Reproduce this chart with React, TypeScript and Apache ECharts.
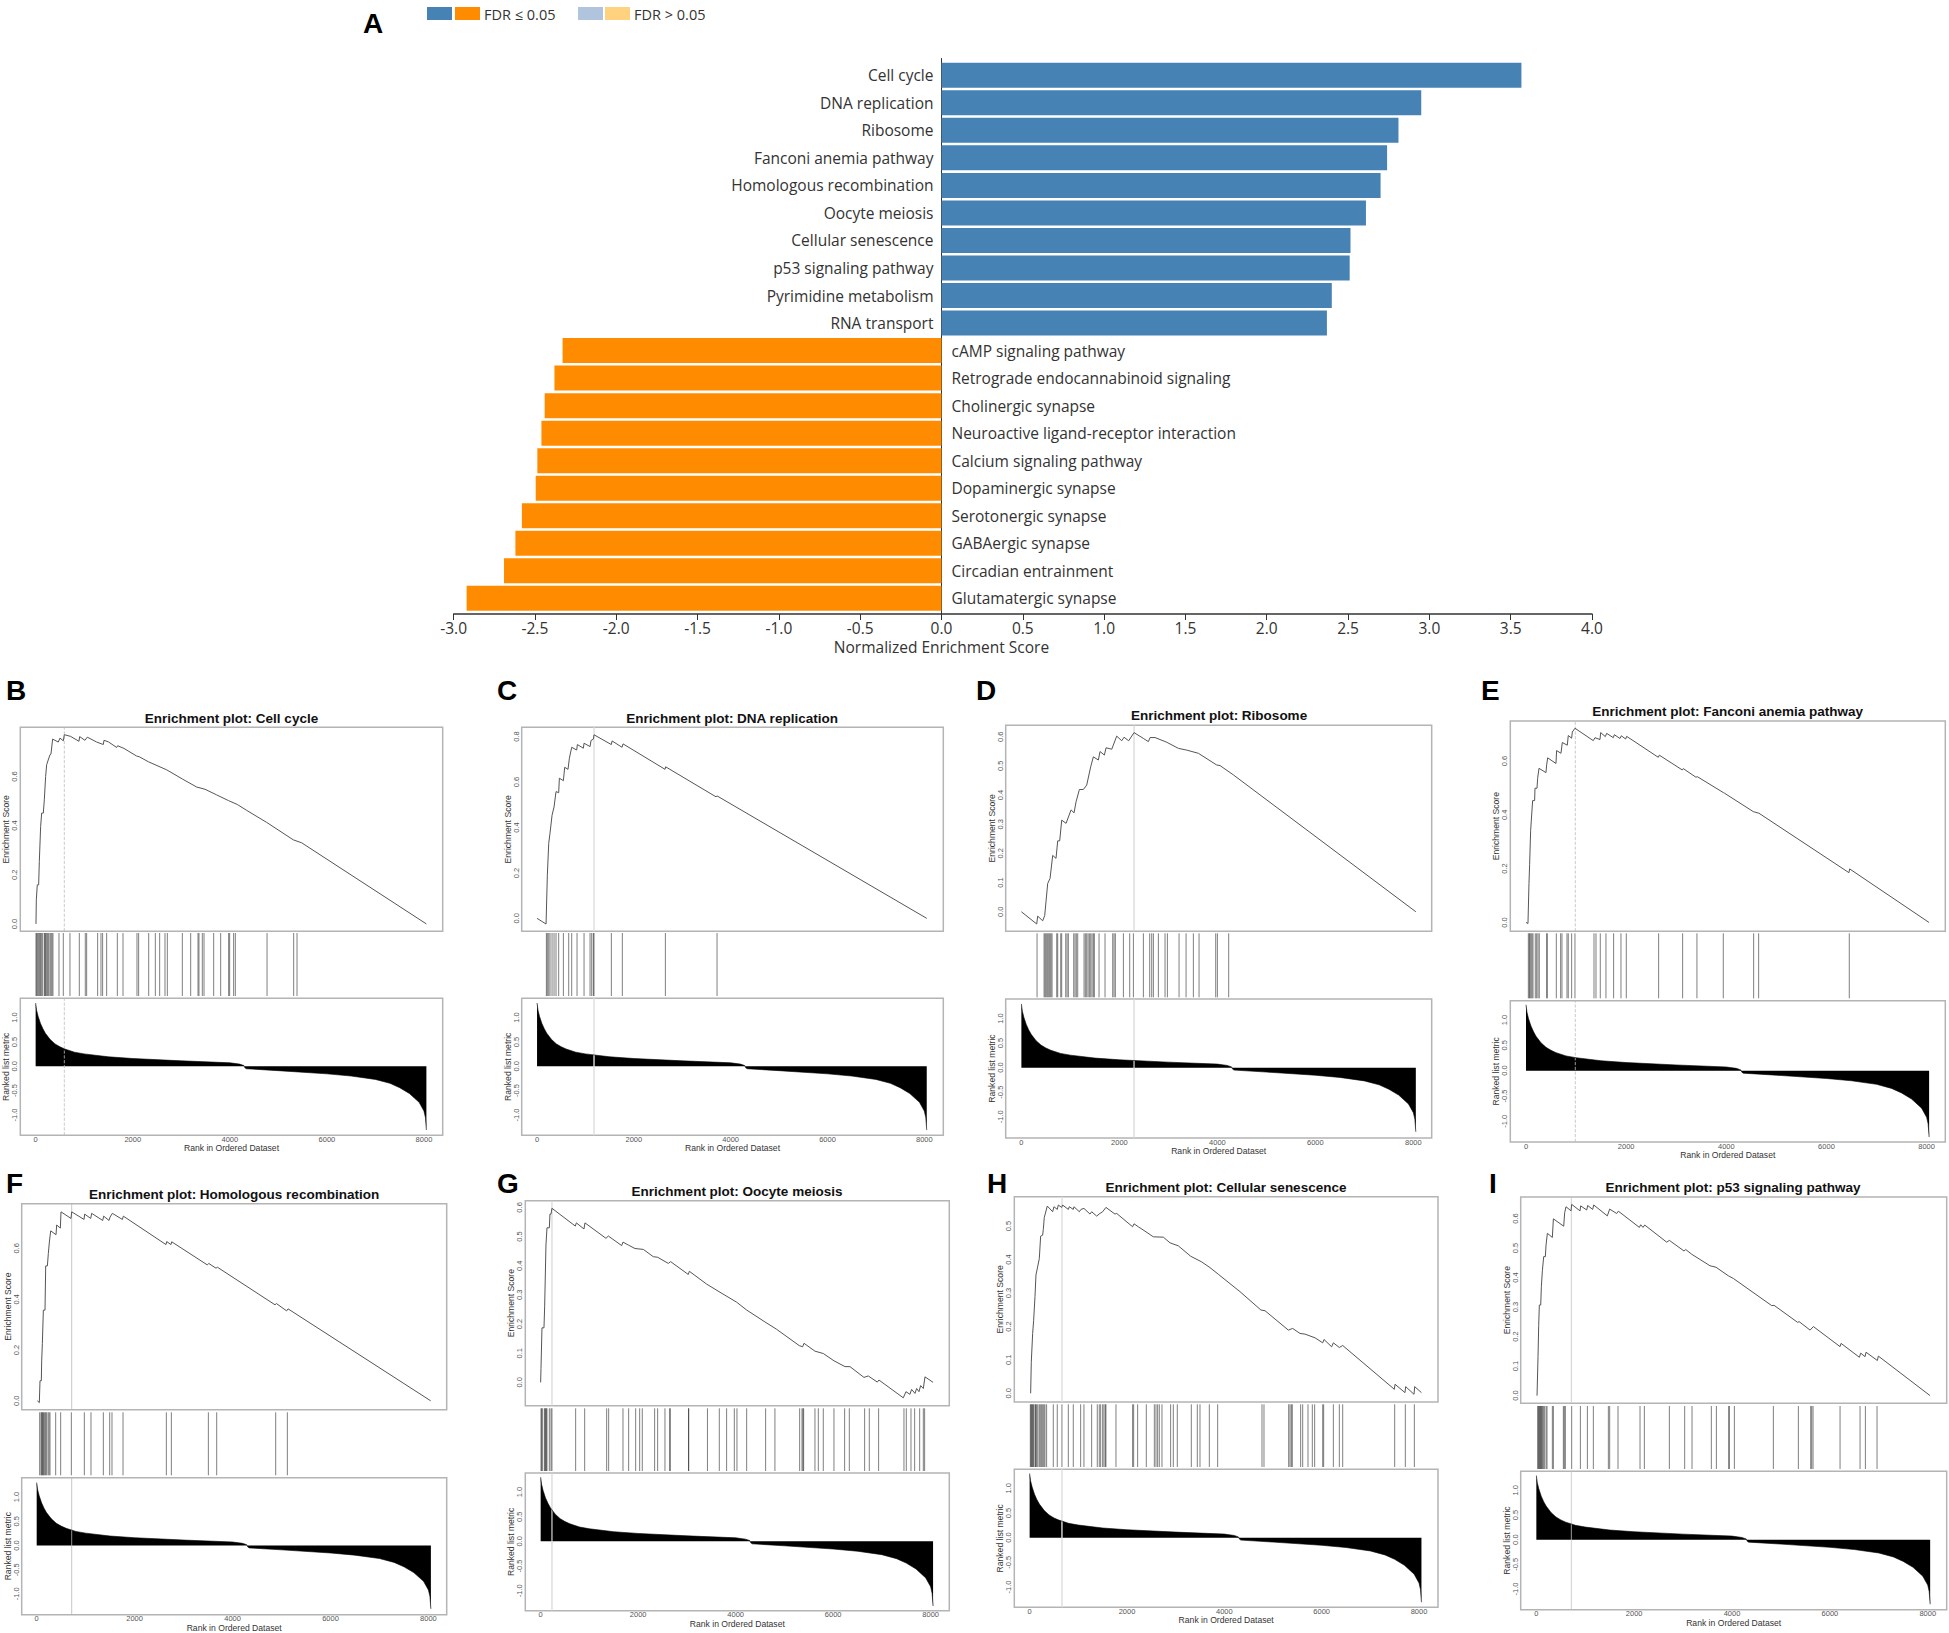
import { useEffect, useRef } from 'react';
import * as echarts from 'echarts';

// panel A
const pathways = [
  'Cell cycle', 'DNA replication', 'Ribosome', 'Fanconi anemia pathway', 'Homologous recombination',
  'Oocyte meiosis', 'Cellular senescence', 'p53 signaling pathway', 'Pyrimidine metabolism', 'RNA transport',
  'cAMP signaling pathway', 'Retrograde endocannabinoid signaling', 'Cholinergic synapse',
  'Neuroactive ligand-receptor interaction', 'Calcium signaling pathway', 'Dopaminergic synapse',
  'Serotonergic synapse', 'GABAergic synapse', 'Circadian entrainment', 'Glutamatergic synapse',
];
const upNes = [3.566, 2.95, 2.81, 2.74, 2.7, 2.61, 2.515, 2.51, 2.4, 2.37];
const downNes = [-2.33, -2.38, -2.44, -2.46, -2.485, -2.495, -2.58, -2.62, -2.69, -2.92];
const nesTicks = [-3, -2.5, -2, -1.5, -1, -0.5, 0, 0.5, 1, 1.5, 2, 2.5, 3, 3.5, 4];

// shared ranked list metric, [rank, value]
const rankedMetric = [
  [0, 1.3], [20, 1.15], [50, 1.03], [100, 0.88], [150, 0.77], [200, 0.68], [300, 0.55], [400, 0.46], [500, 0.4],
  [600, 0.355], [800, 0.29], [1000, 0.255], [1500, 0.195], [2000, 0.16], [3000, 0.112], [4000, 0.072], [4200, 0.045],
  [4290, 0.015], [4310, -0.03], [4340, -0.05], [5000, -0.09], [6000, -0.155], [6500, -0.2], [7000, -0.27],
  [7300, -0.35], [7500, -0.44], [7700, -0.56], [7900, -0.74], [8000, -0.92], [8030, -1.05], [8050, -1.31],
];
const rankTicks = [0, 2000, 4000, 6000, 8000];
const metricTicks = [-1, -0.5, 0, 0.5, 1];

const esCellCycle = [
  [7, 0], [14, 0.098], [34, 0.159], [62, 0.159], [76, 0.254], [103, 0.396], [124, 0.451], [158, 0.451], [179, 0.505],
  [206, 0.6], [227, 0.648], [295, 0.688], [316, 0.691], [350, 0.752], [467, 0.74], [501, 0.756], [570, 0.745],
  [591, 0.77], [721, 0.763], [893, 0.743], [907, 0.762], [1016, 0.747], [1064, 0.76], [1257, 0.74], [1394, 0.73],
  [1408, 0.747], [1497, 0.741], [1669, 0.718], [1690, 0.725], [1820, 0.714], [2081, 0.683], [2136, 0.68],
  [2321, 0.66], [2699, 0.627], [3029, 0.589], [3317, 0.557], [3489, 0.548], [3729, 0.525], [3970, 0.502],
  [4155, 0.486], [4348, 0.462], [4760, 0.413], [5309, 0.342], [5481, 0.33], [8050, 0],
];
const hitsCellCycle = [
  7, 21, 41, 62, 82, 103, 117, 144, 179, 192, 206, 227, 247, 268, 295, 316, 337, 357, 481, 570, 707, 900, 1023, 1051,
  1277, 1346, 1380, 1463, 1683, 1800, 2088, 2122, 2329, 2466, 2555, 2665, 2713, 3022, 3194, 3345, 3365, 3434, 3469,
  3668, 3812, 3976, 3997, 4079, 4114, 4767, 5316, 5385,
];

const esDnaReplication = [
  [0, 0], [186, -0.025], [213, 0.19], [241, 0.33], [268, 0.375], [310, 0.454], [351, 0.49], [392, 0.558], [447, 0.553],
  [461, 0.617], [544, 0.606], [571, 0.665], [640, 0.656], [668, 0.705], [716, 0.753], [819, 0.741], [833, 0.765],
  [957, 0.749], [971, 0.771], [1095, 0.756], [1115, 0.783], [1163, 0.789], [1177, 0.808], [1535, 0.765], [1549, 0.781],
  [1756, 0.753], [1776, 0.768], [2644, 0.656], [2657, 0.667], [3697, 0.535], [3718, 0.539], [8050, 0],
];
const hitsDnaReplication = [
  193, 213, 241, 268, 310, 351, 392, 447, 544, 654, 716, 826, 971, 1095, 1129, 1163, 1177, 1535, 1762, 2651, 3718,
];

const esRibosome = [
  [0, 0], [313, -0.042], [333, -0.015], [435, -0.031], [476, -0.013], [537, 0.097], [585, 0.114], [639, 0.193],
  [707, 0.183], [741, 0.243], [782, 0.243], [823, 0.314], [912, 0.303], [1014, 0.349], [1075, 0.339], [1116, 0.377],
  [1184, 0.419], [1265, 0.419], [1333, 0.434], [1415, 0.497], [1469, 0.531], [1571, 0.52], [1605, 0.549], [1694, 0.537],
  [1728, 0.562], [1844, 0.557], [1946, 0.602], [2048, 0.586], [2095, 0.598], [2190, 0.586], [2299, 0.614], [2490, 0.594],
  [2592, 0.583], [2626, 0.597], [2728, 0.597], [2966, 0.581], [3204, 0.56], [3374, 0.554], [3612, 0.543], [3986, 0.503],
  [4054, 0.501], [4327, 0.469], [8050, 0],
];
const hitsRibosome = [
  320, 463, 483, 503, 524, 544, 565, 585, 605, 626, 721, 741, 803, 823, 905, 932, 959, 1068, 1095, 1122, 1150, 1279,
  1306, 1333, 1361, 1388, 1415, 1442, 1469, 1490, 1585, 1707, 1864, 1891, 1918, 2082, 2211, 2286, 2490, 2619, 2660,
  2694, 2796, 2932, 2980, 3218, 3361, 3510, 3626, 3966, 4000, 4231,
];

const esFanconi = [
  [0, 0], [40, -0.004], [60, 0.145], [73, 0.216], [93, 0.341], [133, 0.453], [173, 0.453], [180, 0.499], [220, 0.499],
  [233, 0.536], [260, 0.573], [399, 0.557], [413, 0.586], [433, 0.612], [599, 0.591], [612, 0.639], [699, 0.629],
  [725, 0.669], [825, 0.659], [845, 0.695], [912, 0.685], [925, 0.708], [978, 0.722], [1344, 0.676], [1378, 0.687],
  [1478, 0.68], [1491, 0.706], [1584, 0.691], [1611, 0.703], [1744, 0.687], [1764, 0.698], [1877, 0.684], [1904, 0.694],
  [1990, 0.682], [2010, 0.692], [2642, 0.614], [2662, 0.622], [3121, 0.567], [3141, 0.572], [3394, 0.54], [3421, 0.542],
  [3940, 0.483], [3960, 0.481], [4539, 0.412], [4652, 0.406], [6449, 0.185], [6463, 0.199], [8047, 0],
];
const hitsFanconi = [
  47, 67, 80, 100, 120, 140, 186, 213, 240, 266, 413, 426, 606, 692, 719, 819, 845, 912, 978, 1358, 1398, 1484, 1597,
  1750, 1897, 2003, 2649, 3128, 3414, 3940, 4546, 4646, 6456,
];

const esHomologous = [
  [14, 0], [54, -0.007], [68, 0.079], [95, 0.079], [102, 0.157], [116, 0.226], [136, 0.357], [170, 0.357], [184, 0.531],
  [218, 0.531], [238, 0.58], [259, 0.625], [286, 0.669], [395, 0.654], [408, 0.692], [483, 0.68], [497, 0.744],
  [701, 0.718], [715, 0.744], [967, 0.714], [980, 0.735], [1103, 0.718], [1123, 0.738], [1348, 0.71], [1368, 0.727],
  [1477, 0.71], [1498, 0.723], [1545, 0.738], [1750, 0.714], [1770, 0.727], [2641, 0.615], [2655, 0.627], [2743, 0.615],
  [2757, 0.626], [3485, 0.535], [3513, 0.541], [3662, 0.522], [3690, 0.526], [4867, 0.378], [4895, 0.383], [5105, 0.354],
  [5133, 0.362], [8046, 0],
];
const hitsHomologous = [
  61, 88, 102, 116, 129, 143, 163, 184, 197, 231, 252, 272, 388, 490, 708, 973, 1109, 1361, 1491, 1538, 1763, 2648, 2750,
  3506, 3676, 4881, 5119,
];

const esOocyte = [
  [0, 0], [7, 0.048], [27, 0.187], [68, 0.187], [82, 0.259], [109, 0.471], [130, 0.53], [178, 0.53], [191, 0.577],
  [212, 0.577], [232, 0.597], [711, 0.536], [732, 0.547], [889, 0.526], [909, 0.547], [1340, 0.494], [1388, 0.502],
  [1662, 0.469], [1689, 0.481], [1798, 0.471], [1935, 0.459], [2106, 0.456], [2311, 0.431], [2400, 0.429], [2619, 0.408],
  [2667, 0.414], [3029, 0.37], [3050, 0.381], [3405, 0.337], [3679, 0.309], [4021, 0.275], [4226, 0.248], [4622, 0.205],
  [4841, 0.182], [5306, 0.126], [5374, 0.122], [5402, 0.134], [5627, 0.107], [5798, 0.099], [6017, 0.074], [6243, 0.054],
  [6345, 0.054], [6632, 0.017], [6721, 0.022], [6906, 0.001], [6940, 0.008], [7439, -0.053], [7494, -0.032], [7576, -0.041],
  [7610, -0.024], [7679, -0.038], [7713, -0.021], [7761, -0.032], [7795, -0.011], [7850, -0.021], [7884, 0.019], [8050, 0],
];
const hitsOocyte = [
  7, 21, 34, 75, 89, 103, 116, 130, 178, 212, 232, 718, 903, 1354, 1395, 1689, 1805, 1949, 2031, 2085, 2338, 2400, 2550,
  2646, 2660, 3036, 3036, 3422, 3665, 3815, 3973, 4027, 4226, 4615, 4806, 5313, 5361, 5381, 5395, 5627, 5696, 5798, 6017,
  6236, 6332, 6646, 6742, 6933, 7453, 7501, 7597, 7672, 7775, 7850, 7877,
];

const esSenescence = [
  [21, 0], [34, 0.093], [62, 0.179], [82, 0.217], [110, 0.289], [130, 0.354], [164, 0.378], [199, 0.403], [226, 0.47],
  [267, 0.473], [281, 0.49], [301, 0.526], [363, 0.56], [473, 0.543], [500, 0.558], [568, 0.55], [589, 0.563], [658, 0.556],
  [678, 0.563], [795, 0.55], [815, 0.558], [897, 0.55], [911, 0.558], [1021, 0.543], [1055, 0.55], [1116, 0.553],
  [1240, 0.536], [1274, 0.543], [1377, 0.53], [1445, 0.538], [1500, 0.543], [1568, 0.556], [1753, 0.536], [1788, 0.538],
  [2116, 0.498], [2144, 0.507], [2233, 0.498], [2370, 0.485], [2541, 0.468], [2747, 0.467], [2884, 0.45], [3055, 0.441],
  [3308, 0.41], [3534, 0.393], [3705, 0.376], [3877, 0.356], [4322, 0.304], [4753, 0.249], [4836, 0.247], [5315, 0.189],
  [5404, 0.194], [5555, 0.179], [5658, 0.177], [5863, 0.166], [6021, 0.151], [6048, 0.161], [6205, 0.139], [6240, 0.151],
  [6363, 0.137], [6432, 0.143], [7493, 0.012], [7507, 0.027], [7712, 0.002], [7726, 0.02], [7897, -0.003], [7911, 0.02],
  [8050, 0.002],
];
const hitsSenescence = [
  14, 27, 41, 55, 68, 82, 110, 123, 137, 158, 192, 212, 233, 253, 274, 295, 315, 349, 486, 568, 664, 795, 897, 1048, 1116,
  1274, 1390, 1431, 1459, 1500, 1527, 1555, 1568, 1774, 2116, 2137, 2219, 2397, 2562, 2596, 2630, 2664, 2719, 2897, 2952,
  3034, 3322, 3445, 3500, 3692, 3863, 4774, 4815, 5322, 5349, 5377, 5397, 5568, 5610, 5719, 5808, 5856, 6021, 6041, 6240,
  6363, 6432, 7500, 7719, 7904,
];

const esP53 = [
  [14, 0], [34, 0.132], [48, 0.238], [61, 0.307], [89, 0.307], [102, 0.369], [123, 0.423], [150, 0.471], [184, 0.471],
  [198, 0.51], [225, 0.55], [327, 0.536], [348, 0.599], [559, 0.574], [579, 0.62], [606, 0.64], [709, 0.626], [722, 0.648],
  [893, 0.626], [906, 0.643], [1029, 0.629], [1049, 0.644], [1152, 0.631], [1172, 0.646], [1451, 0.609], [1499, 0.632],
  [1642, 0.617], [1676, 0.625], [2106, 0.57], [2133, 0.579], [2180, 0.57], [2215, 0.578], [2664, 0.52], [2719, 0.526],
  [3019, 0.49], [3053, 0.495], [3176, 0.479], [3550, 0.44], [3673, 0.435], [3925, 0.406], [4027, 0.397], [4811, 0.305],
  [4859, 0.306], [5342, 0.248], [5370, 0.251], [5595, 0.222], [5663, 0.234], [6208, 0.166], [6228, 0.177], [6603, 0.13],
  [6630, 0.144], [6719, 0.132], [6739, 0.147], [6971, 0.119], [6991, 0.134], [8048, 0],
];
const hitsP53 = [
  27, 41, 55, 68, 82, 95, 109, 123, 143, 164, 198, 218, 327, 348, 552, 572, 593, 722, 900, 1043, 1165, 1472, 1499, 1669,
  2119, 2208, 2719, 3032, 3182, 3577, 3680, 3932, 3945, 4048, 4845, 5356, 5608, 5629, 5656, 6208, 6617, 6726, 6964,
];

const panels = [
  { letter: 'B', name: 'Cell cycle', letterX: 6, letterY: 680, titleX: 231.5, titleY: 718, left: 20.3, right: 442.7, top: 727.3, esBottom: 931.3, hitTop: 933, hitBottom: 996, metricTop: 998.3, bottom: 1135.3, rankRange: [-316, 8386], esRange: [-0.03, 0.8], metricRange: [-1.418, 1.397], esTicks: [0, 0.2, 0.4, 0.6], peak: 591, peakStyle: { color: '#bdbdbd', width: 0.8, type: 'dashed' }, es: esCellCycle, hits: hitsCellCycle },
  { letter: 'C', name: 'DNA replication', letterX: 497, letterY: 680, titleX: 732, titleY: 718, left: 521.7, right: 943.3, top: 727.3, esBottom: 931.3, hitTop: 933, hitBottom: 996, metricTop: 998.3, bottom: 1135.3, rankRange: [-317, 8392], esRange: [-0.057, 0.841], metricRange: [-1.418, 1.397], esTicks: [0, 0.2, 0.4, 0.6, 0.8], peak: 1177, peakStyle: { color: '#dedede', width: 1.4 }, es: esDnaReplication, hits: hitsDnaReplication },
  { letter: 'D', name: 'Ribosome', letterX: 976, letterY: 680, titleX: 1219, titleY: 715, left: 1005.7, right: 1431.7, top: 725.3, esBottom: 931.3, hitTop: 933.3, hitBottom: 997.3, metricTop: 999, bottom: 1138, rankRange: [-320, 8374], esRange: [-0.067, 0.639], metricRange: [-1.435, 1.4], esTicks: [0, 0.1, 0.2, 0.3, 0.4, 0.5, 0.6], peak: 2299, peakStyle: { color: '#d6d6d6', width: 1.2 }, es: esRibosome, hits: hitsRibosome },
  { letter: 'E', name: 'Fanconi anemia pathway', letterX: 1481, letterY: 680, titleX: 1727.7, titleY: 711, left: 1510.3, right: 1945.3, top: 721, esBottom: 931.3, hitTop: 933.3, hitBottom: 998.3, metricTop: 1000.7, bottom: 1142, rankRange: [-313, 8373], esRange: [-0.033, 0.749], metricRange: [-1.408, 1.38], esTicks: [0, 0.2, 0.4, 0.6], peak: 985, peakStyle: { color: '#bdbdbd', width: 0.8, type: 'dashed' }, es: esFanconi, hits: hitsFanconi },
  { letter: 'F', name: 'Homologous recombination', letterX: 6, letterY: 1173, titleX: 234, titleY: 1194, left: 21.7, right: 446.7, top: 1203.7, esBottom: 1409.7, hitTop: 1412.3, hitBottom: 1475.3, metricTop: 1477.7, bottom: 1616.3, rankRange: [-306, 8373], esRange: [-0.035, 0.776], metricRange: [-1.43, 1.4], esTicks: [0, 0.2, 0.4, 0.6], peak: 715, peakStyle: { color: '#b8b8b8', width: 0.8 }, es: esHomologous, hits: hitsHomologous },
  { letter: 'G', name: 'Oocyte meiosis', letterX: 497, letterY: 1173, titleX: 737, titleY: 1191, left: 525.3, right: 949.3, top: 1200.7, esBottom: 1405.7, hitTop: 1408.3, hitBottom: 1471, metricTop: 1473, bottom: 1610.7, rankRange: [-315, 8383], esRange: [-0.08, 0.623], metricRange: [-1.405, 1.385], esTicks: [0, 0.1, 0.2, 0.3, 0.4, 0.5, 0.6], peak: 232, peakStyle: { color: '#d6d6d6', width: 1.2 }, es: esOocyte, hits: hitsOocyte },
  { letter: 'H', name: 'Cellular senescence', letterX: 987, letterY: 1173, titleX: 1226, titleY: 1187, left: 1014.3, right: 1438, top: 1196.7, esBottom: 1402, hitTop: 1404.3, hitBottom: 1467, metricTop: 1469.3, bottom: 1607.3, rankRange: [-315, 8390], esRange: [-0.026, 0.588], metricRange: [-1.412, 1.385], esTicks: [0, 0.1, 0.2, 0.3, 0.4, 0.5], peak: 664, peakStyle: { color: '#dedede', width: 1.4 }, es: esSenescence, hits: hitsSenescence },
  { letter: 'I', name: 'p53 signaling pathway', letterX: 1489, letterY: 1173, titleX: 1733, titleY: 1187, left: 1520.7, right: 1946.7, top: 1197, esBottom: 1403.3, hitTop: 1406, hitBottom: 1469, metricTop: 1471.3, bottom: 1609.7, rankRange: [-320, 8388], esRange: [-0.026, 0.673], metricRange: [-1.419, 1.385], esTicks: [0, 0.1, 0.2, 0.3, 0.4, 0.5, 0.6], peak: 715, peakStyle: { color: '#c4c4c4', width: 0.8 }, es: esP53, hits: hitsP53 },
];

const WIDTH = 1949;
const HEIGHT = 1633;
const SANS = '"Liberation Sans", Arial, sans-serif';
const UI_FONT = '"Open Sans", sans-serif';
const BOX = '#b4b4b4';
const FAINT = '#555';

const hitRenderer = (_params: any, api: any) => {
  const rank = api.value(0);
  const from = api.coord([rank, 0]);
  const to = api.coord([rank, 1]);
  return {
    type: 'line',
    shape: { x1: from[0], y1: from[1], x2: to[0], y2: to[1] },
    style: { stroke: '#000', opacity: 0.5, lineWidth: 1 },
  };
};

function buildOption() {
  const grid: any[] = [
    { left: 453.6, right: WIDTH - 1592, top: 61.5, height: 550.6 },
    { left: 453.6, right: WIDTH - 1592, top: 58.5, height: 555.5 },
  ];
  const xAxis: any[] = [
    { gridIndex: 0, type: 'value', min: -3, max: 4, show: false },
    {
      gridIndex: 1, type: 'value', min: -3, max: 4,
      axisLine: { onZero: false, lineStyle: { color: '#333', width: 1.5 } },
      axisTick: { length: 6, lineStyle: { color: '#333' }, customValues: nesTicks },
      axisLabel: {
        customValues: nesTicks, margin: 6, fontFamily: UI_FONT, fontSize: 15.5, color: '#333',
        formatter: (v: number) => v.toFixed(1),
      },
      splitLine: { show: false },
    },
  ];
  const yAxis: any[] = [
    {
      gridIndex: 0, type: 'category', inverse: true, data: pathways,
      axisLine: { show: false }, axisTick: { show: false }, axisLabel: { show: false },
    },
    {
      gridIndex: 1, type: 'value', min: 0, max: 1,
      axisLine: { show: true, onZero: true, lineStyle: { color: '#333', width: 1 } },
      axisTick: { show: false }, axisLabel: { show: false }, splitLine: { show: false },
    },
  ];

  const barLabel = (position: string, distance: number) => ({
    show: true, position, distance, formatter: '{b}',
    fontFamily: UI_FONT, fontSize: 15.5, color: '#333',
  });
  const series: any[] = [
    {
      type: 'bar', name: 'up', xAxisIndex: 0, yAxisIndex: 0, stack: 'nes', barWidth: 25,
      data: [...upNes, ...downNes.map(() => null)],
      itemStyle: { color: '#4682B4' }, label: barLabel('left', 8),
    },
    {
      type: 'bar', name: 'down', xAxisIndex: 0, yAxisIndex: 0, stack: 'nes', barWidth: 25,
      data: [...upNes.map(() => null), ...downNes],
      itemStyle: { color: '#FF8C00' }, label: barLabel('right', 10),
    },
    // only here to carry the zero line axis
    { type: 'line', xAxisIndex: 1, yAxisIndex: 1, data: [], silent: true },
  ];
  const title: any[] = [
    { text: 'A', left: 363, top: 9, padding: 0, textStyle: { fontFamily: SANS, fontSize: 28, fontWeight: 'bold', color: '#000' } },
    {
      text: 'Normalized Enrichment Score', left: 941.5, top: 639, padding: 0, textAlign: 'center',
      textStyle: { fontFamily: UI_FONT, fontSize: 15.5, fontWeight: 'normal', color: '#333' },
    },
  ];

  panels.forEach((p, i) => {
    const esGrid = 2 + i * 3;
    const hitGrid = esGrid + 1;
    const metricGrid = esGrid + 2;
    const common = { left: p.left, width: p.right - p.left, containLabel: false };
    const frame = { show: true, borderColor: BOX, borderWidth: 1.5, backgroundColor: 'transparent' };
    grid.push(
      { ...common, ...frame, top: p.top, height: p.esBottom - p.top },
      { ...common, top: p.hitTop, height: p.hitBottom - p.hitTop },
      { ...common, ...frame, top: p.metricTop, height: p.bottom - p.metricTop },
    );

    const rankAxis = { type: 'value', min: p.rankRange[0], max: p.rankRange[1], splitLine: { show: false } };
    xAxis.push(
      { ...rankAxis, gridIndex: esGrid, show: false },
      { ...rankAxis, gridIndex: hitGrid, show: false },
      {
        ...rankAxis, gridIndex: metricGrid,
        name: 'Rank in Ordered Dataset', nameLocation: 'middle', nameGap: 8.3, nameMoveOverlap: false,
        nameTextStyle: { fontFamily: SANS, fontSize: 8.6, color: '#333' },
        axisLine: { show: false }, axisTick: { show: false },
        axisLabel: {
          customValues: rankTicks, margin: 0, fontFamily: SANS, fontSize: 7.5, color: FAINT,
          formatter: (v: number) => String(v),
        },
      },
    );
    const sideAxis = (range: number[], ticks: number[], name: string, gridIndex: number) => ({
      gridIndex, type: 'value', min: range[0], max: range[1],
      name, nameLocation: 'middle', nameGap: 9.5, nameMoveOverlap: false,
      nameTextStyle: { fontFamily: SANS, fontSize: 8.6, color: '#333' },
      axisLine: { show: false }, axisTick: { show: false }, splitLine: { show: false },
      axisLabel: {
        rotate: 90, customValues: ticks, margin: 1.5, fontFamily: SANS, fontSize: 7.5, color: FAINT,
        formatter: (v: number) => v.toFixed(1),
      },
    });
    yAxis.push(
      sideAxis(p.esRange, p.esTicks, 'Enrichment Score', esGrid),
      { gridIndex: hitGrid, type: 'value', min: 0, max: 1, show: false },
      sideAxis(p.metricRange, metricTicks, 'Ranked list metric', metricGrid),
    );

    const peakLine = (gridIndex: number, range: number[]) => ({
      type: 'line', xAxisIndex: gridIndex, yAxisIndex: gridIndex, silent: true, symbol: 'none',
      data: [[p.peak, range[0]], [p.peak, range[1]]],
      lineStyle: p.peakStyle,
    });
    series.push(
      peakLine(esGrid, p.esRange),
      {
        type: 'line', name: `${p.name} ES`, xAxisIndex: esGrid, yAxisIndex: esGrid, symbol: 'none', data: p.es,
        lineStyle: { color: '#555', width: 1 },
      },
      {
        type: 'custom', name: `${p.name} hits`, xAxisIndex: hitGrid, yAxisIndex: hitGrid,
        data: p.hits.map((r) => [r]), encode: { x: 0 }, renderItem: hitRenderer,
      },
      peakLine(metricGrid, p.metricRange),
      {
        type: 'line', name: `${p.name} metric`, xAxisIndex: metricGrid, yAxisIndex: metricGrid, symbol: 'none',
        data: rankedMetric, lineStyle: { color: '#000', width: 0.6 },
        areaStyle: { color: '#000', opacity: 1, origin: 0 },
      },
    );
    title.push(
      { text: p.letter, left: p.letterX, top: p.letterY - 4, padding: 0, textStyle: { fontFamily: SANS, fontSize: 28, fontWeight: 'bold', color: '#000' } },
      {
        text: `Enrichment plot: ${p.name}`, left: p.titleX, top: p.titleY - 7, textAlign: 'center', padding: 0,
        textStyle: { fontFamily: SANS, fontSize: 13.5, fontWeight: 'bold', color: '#111' },
      },
    );
  });

  return {
    animation: false,
    backgroundColor: '#fff',
    title,
    grid,
    xAxis,
    yAxis,
    series,
    graphic: [
      { type: 'rect', left: 427, top: 7, shape: { width: 25, height: 13 }, style: { fill: '#4682B4' } },
      { type: 'rect', left: 455, top: 7, shape: { width: 25, height: 13 }, style: { fill: '#FF8C00' } },
      { type: 'text', left: 484, top: 7, style: { text: 'FDR ≤ 0.05', font: `14.5px ${UI_FONT}`, fill: '#333' } },
      { type: 'rect', left: 578, top: 7, shape: { width: 25, height: 13 }, style: { fill: '#B0C4DE' } },
      { type: 'rect', left: 605, top: 7, shape: { width: 25, height: 13 }, style: { fill: '#FFD27F' } },
      { type: 'text', left: 634, top: 7, style: { text: 'FDR > 0.05', font: `14.5px ${UI_FONT}`, fill: '#333' } },
    ],
  };
}

export default function App() {
  const chartRef = useRef<HTMLDivElement>(null);

  useEffect(() => {
    if (!chartRef.current) return;
    const chart = echarts.init(chartRef.current, null, { renderer: 'svg' });
    chart.setOption(buildOption() as any);
    return () => chart.dispose();
  }, []);

  return <div ref={chartRef} style={{ position: 'absolute', left: 0, top: 0, width: WIDTH, height: HEIGHT }} />;
}
